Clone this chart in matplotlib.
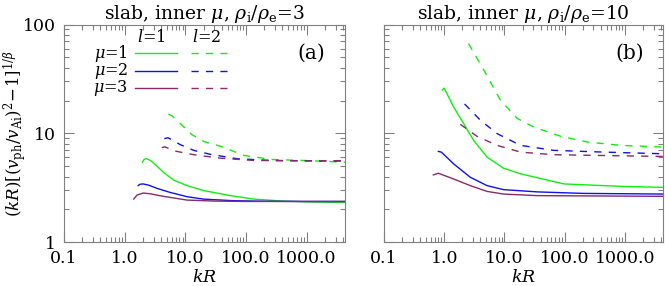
import numpy as np
import matplotlib.pyplot as plt
from matplotlib.lines import Line2D
from matplotlib.ticker import FixedLocator, FixedFormatter, LogLocator, NullFormatter

# panel (a): rho_i/rho_e = 3
a_l1_mu1_k = [1.97, 2.1, 2.3, 2.7, 3.4, 4.35, 6.5, 10.7, 20.2, 56, 135, 400, 1000, 4300]
a_l1_mu1_y = [5.42, 5.75, 5.84, 5.6, 5.0, 4.38, 3.7, 3.30, 2.97, 2.67, 2.48, 2.38, 2.34, 2.31]
a_l1_mu2_k = [1.67, 1.8, 2.02, 2.5, 3.5, 5.6, 10.7, 20, 60, 200, 1000, 4300]
a_l1_mu2_y = [3.30, 3.40, 3.42, 3.33, 3.1, 2.86, 2.61, 2.48, 2.40, 2.37, 2.36, 2.36]
a_l1_mu3_k = [1.41, 1.6, 2.02, 2.6, 4.35, 10.7, 30, 100, 1000, 4300]
a_l1_mu3_y = [2.48, 2.70, 2.82, 2.78, 2.63, 2.43, 2.38, 2.36, 2.36, 2.36]
a_l2_mu1_k = [5.27, 6.0, 8.26, 12.9, 20.2, 38, 93, 262, 930, 4300]
a_l2_mu1_y = [15.0, 14.5, 12.3, 9.7, 8.4, 7.6, 6.26, 5.74, 5.62, 5.42]
a_l2_mu2_k = [4.52, 5.2, 8.26, 13.8, 26, 72, 262, 1000, 4300]
a_l2_mu2_y = [8.93, 9.1, 7.86, 6.96, 6.4, 5.83, 5.62, 5.58, 5.55]
a_l2_mu3_k = [4.09, 4.6, 6.8, 13.8, 38, 137, 1000, 4300]
a_l2_mu3_y = [7.38, 7.5, 6.86, 6.35, 5.9, 5.62, 5.58, 5.6]

# panel (b): rho_i/rho_e = 10
b_l1_mu1_k = [0.93, 1.0, 1.43, 2.1, 3.08, 5.15, 9.7, 18.5, 97, 860, 4300]
b_l1_mu1_y = [25.0, 26.0, 17.5, 12.3, 8.6, 6.03, 4.77, 4.24, 3.42, 3.25, 3.18]
b_l1_mu2_k = [0.80, 0.9, 1.43, 2.71, 5.15, 9.7, 35, 200, 4300]
b_l1_mu2_y = [6.81, 6.7, 5.24, 3.94, 3.30, 3.03, 2.89, 2.80, 2.76]
b_l1_mu3_k = [0.66, 0.80, 1.43, 2.71, 5.15, 9.7, 35, 4300]
b_l1_mu3_y = [4.14, 4.29, 3.80, 3.30, 2.92, 2.76, 2.67, 2.63]
b_l2_mu1_k = [2.54, 4.52, 8.57, 16.3, 30.8, 85.8, 239, 858, 4300]
b_l2_mu1_y = [66.7, 38.3, 20.2, 13.7, 11.4, 9.38, 8.3, 7.74, 7.46]
b_l2_mu2_k = [2.18, 3.98, 7.55, 18.5, 66, 452, 4300]
b_l2_mu2_y = [18.6, 13.2, 9.93, 7.74, 6.96, 6.71, 6.48]
b_l2_mu3_k = [1.85, 3.5, 7.55, 18.5, 66, 4300]
b_l2_mu3_y = [12.1, 9.38, 7.74, 6.71, 6.35, 6.12]

x_ticks = [0.1, 1, 10, 100, 1000]
x_labels = ["0.1", "1.0", "10.0", "100.0", "1000.0"]
y_ticks = [1, 10, 100]
y_labels = ["1", "10", "100"]
mu_labels = [r"$\mu$=1", r"$\mu$=2", r"$\mu$=3"]
colors = ["#10ee10", "#1010f0", "#8a2870"]

plt.rcParams["font.family"] = "DejaVu Serif"
plt.rcParams["mathtext.fontset"] = "dejavuserif"
plt.rcParams["axes.edgecolor"] = "#808080"

fig = plt.figure(figsize=(6.65, 2.86), dpi=100)
ax_a = fig.add_axes([0.0962, 0.1538, 0.4226, 0.7605])
ax_b = fig.add_axes([0.5774, 0.1538, 0.4196, 0.7605])

panels = [
    (ax_a, "3", "(a)",
     [(a_l1_mu1_k, a_l1_mu1_y), (a_l1_mu2_k, a_l1_mu2_y), (a_l1_mu3_k, a_l1_mu3_y)],
     [(a_l2_mu1_k, a_l2_mu1_y), (a_l2_mu2_k, a_l2_mu2_y), (a_l2_mu3_k, a_l2_mu3_y)]),
    (ax_b, "10", "(b)",
     [(b_l1_mu1_k, b_l1_mu1_y), (b_l1_mu2_k, b_l1_mu2_y), (b_l1_mu3_k, b_l1_mu3_y)],
     [(b_l2_mu1_k, b_l2_mu1_y), (b_l2_mu2_k, b_l2_mu2_y), (b_l2_mu3_k, b_l2_mu3_y)]),
]

for ax, ratio, tag, l1, l2 in panels:
    for (k, y), c in zip(l1, colors):
        ax.plot(k, y, color=c, lw=1.0)
    for (k, y), c in zip(l2, colors):
        ax.plot(k, y, color=c, lw=1.0, dashes=(5.2, 5.2))
    ax.set_xscale("log")
    ax.set_yscale("log")
    ax.set_xlim(0.1, 4300)
    ax.set_ylim(1, 100)
    ax.xaxis.set_major_locator(FixedLocator(x_ticks))
    ax.xaxis.set_major_formatter(FixedFormatter(x_labels))
    ax.yaxis.set_major_locator(FixedLocator(y_ticks))
    ax.yaxis.set_major_formatter(FixedFormatter(y_labels))
    ax.xaxis.set_minor_locator(LogLocator(subs=np.arange(2, 10)))
    ax.yaxis.set_minor_locator(LogLocator(subs=np.arange(2, 10)))
    ax.xaxis.set_minor_formatter(NullFormatter())
    ax.yaxis.set_minor_formatter(NullFormatter())
    ax.tick_params(which="both", direction="in", top=True, right=True,
                   color="#808080", labelsize=12.5, pad=6)
    ax.tick_params(which="major", length=7, width=0.8)
    ax.tick_params(which="minor", length=3.5, width=0.8)
    ax.set_xlabel(r"$kR$", fontsize=12.5, labelpad=1)
    ax.set_title(r"slab, inner $\mu$, $\rho_{\rm i}/\rho_{\rm e}$=" + ratio,
                 fontsize=13.5, pad=4)
    ax.text(0.88, 0.868, tag, transform=ax.transAxes, fontsize=14.5,
            ha="center", va="center")

ax_b.tick_params(labelleft=False)
ax_a.set_ylabel(r"$(kR)[(v_{\rm ph}/v_{\rm Ai})^2\!-\!1]^{1/\beta}$", fontsize=12,
                va="center")
ax_a.yaxis.set_label_coords(-0.172, 0.5)

# legend table in panel (a)
ax_a.text(0.260, 0.938, r"$l$=1", transform=ax_a.transAxes, fontsize=11.5, va="center")
ax_a.text(0.456, 0.938, r"$l$=2", transform=ax_a.transAxes, fontsize=11.5, va="center")
for row, (lab, c) in enumerate(zip(mu_labels, colors)):
    yy = 0.868 - 0.0795 * row
    ax_a.text(0.228, yy, lab, transform=ax_a.transAxes, fontsize=11.5,
              ha="right", va="center")
    ax_a.add_line(Line2D([0.253, 0.401], [yy, yy], transform=ax_a.transAxes,
                         color=c, lw=1.0))
    ax_a.add_line(Line2D([0.452, 0.580], [yy, yy], transform=ax_a.transAxes,
                         color=c, lw=1.0, dashes=(5.2, 5.2)))

fig.savefig("out.png", dpi=100)
